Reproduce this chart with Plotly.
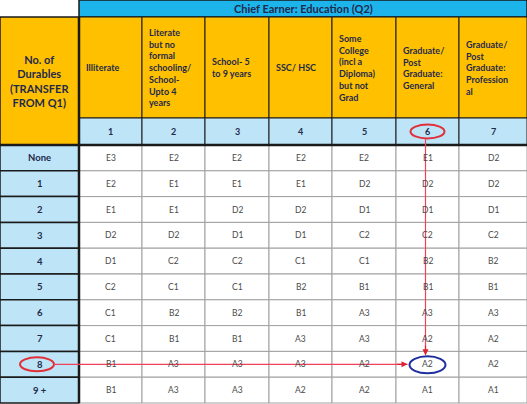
import plotly.graph_objects as go

title = "Chief Earner: Education (Q2)"
row_header = "No. of<br>Durables<br>(TRANSFER<br>FROM Q1)"
col_headers = ["Illiterate", "Literate<br>but no<br>formal<br>schooling/<br>School-<br>Upto 4<br>years",
               "School- 5<br>to 9 years", "SSC/ HSC", "Some<br>College<br>(incl a<br>Diploma)<br>but not<br>Grad",
               "Graduate/<br>Post<br>Graduate:<br>General", "Graduate/<br>Post<br>Graduate:<br>Profession<br>al"]
col_codes = ["1", "2", "3", "4", "5", "6", "7"]
row_labels = ["None", "1", "2", "3", "4", "5", "6", "7", "8", "9 +"]
grades = [
    ["E3", "E2", "E2", "E2", "E2", "E1", "D2"],
    ["E2", "E1", "E1", "E1", "D2", "D2", "D2"],
    ["E1", "E1", "D2", "D2", "D1", "D1", "D1"],
    ["D2", "D2", "D1", "D1", "C2", "C2", "C2"],
    ["D1", "C2", "C2", "C1", "C1", "B2", "B2"],
    ["C2", "C1", "C1", "B2", "B1", "B1", "B1"],
    ["C1", "B2", "B2", "B1", "A3", "A3", "A3"],
    ["C1", "B1", "B1", "A3", "A3", "A2", "A2"],
    ["B1", "A3", "A3", "A3", "A2", "A2", "A2"],
    ["B1", "A3", "A3", "A2", "A2", "A1", "A1"],
]

xe = [0, 79, 142, 205, 269, 332, 396, 459, 527]
ye_top = [0, 17, 118, 145]
ye = [145 + i * 25.8 for i in range(11)]

ORANGE = "#FFC000"; CYAN = "#1DB4EC"; LBLUE = "#BEE4F8"; NAVY = "#1F2A4A"; GRID = "#A0A0A0"; DARK = "#1A1A1A"
FONT = "Lato"

fig = go.Figure()
shapes = []
def rect(x0, y0, x1, y1, fill, lc=GRID, lw=1):
    shapes.append(dict(type="rect", x0=x0, y0=y0, x1=x1, y1=y1, fillcolor=fill,
                       line=dict(color=lc, width=lw), layer="below"))

rect(xe[1], ye_top[0], xe[-1], ye_top[1], CYAN, DARK, 1.5)
rect(xe[0], ye_top[1], xe[1], ye_top[3], ORANGE, DARK, 1.5)
for j in range(7):
    rect(xe[j+1], ye_top[1], xe[j+2], ye_top[2], ORANGE, DARK, 1)
    rect(xe[j+1], ye_top[2], xe[j+2], ye_top[3], LBLUE, DARK, 1)
for i in range(10):
    rect(xe[0], ye[i], xe[1], ye[i+1], LBLUE, DARK, 1.5)
    for j in range(7):
        rect(xe[j+1], ye[i], xe[j+2], ye[i+1], "white", GRID, 1)
shapes.append(dict(type="line", x0=xe[1], x1=xe[1], y0=ye_top[1], y1=ye[-1], line=dict(color=DARK, width=2.5)))
shapes.append(dict(type="line", x0=0, x1=527, y0=ye_top[3], y1=ye_top[3], line=dict(color=DARK, width=2.5)))

cx = (xe[6] + xe[7]) / 2
ry = (ye[8] + ye[9]) / 2
hy = (ye_top[2] + ye_top[3]) / 2
shapes.append(dict(type="circle", x0=cx-17, x1=cx+17, y0=hy-7, y1=hy+7, line=dict(color="#E0303A", width=2)))
shapes.append(dict(type="circle", x0=20, x1=54, y0=ry-7, y1=ry+7, line=dict(color="#E0303A", width=2)))
shapes.append(dict(type="circle", x0=cx-18, x1=cx+18, y0=ry-8, y1=ry+9, line=dict(color="#1F2FA0", width=2)))
shapes.append(dict(type="line", x0=cx-2, x1=cx-2, y0=hy+7, y1=ry-9, line=dict(color="#F0405A", width=1.2)))
shapes.append(dict(type="line", x0=54, x1=cx-20, y0=ry, y1=ry, line=dict(color="#F0405A", width=1.2)))

ann = []
def txt(x, y, t, size=9, bold=False, color=NAVY, xanchor="center", align="center"):
    ann.append(dict(x=x, y=y, text=f"<b>{t}</b>" if bold else t, showarrow=False, xanchor=xanchor,
                    font=dict(family=FONT, size=size, color=color), align=align))
txt((xe[1]+xe[-1])/2, 8.5, title, 11, True)
txt(xe[1]/2, 81, row_header, 11, True)
for j in range(7):
    txt(xe[j+1]+5, (ye_top[1]+ye_top[2])/2, col_headers[j], 9, True, NAVY, "left", "left")
    txt((xe[j+1]+xe[j+2])/2, hy, col_codes[j], 9, True)
for i in range(10):
    yc = (ye[i]+ye[i+1])/2
    txt(xe[1]/2, yc, row_labels[i], 9.5, True)
    for j in range(7):
        txt((xe[j+1]+xe[j+2])/2, yc, grades[i][j], 8.5, False, "#4A4A4A")
ann.append(dict(x=cx-2, y=ry-9, ax=cx-2, ay=ry-20, xref="x", yref="y", axref="x", ayref="y", text="",
                showarrow=True, arrowhead=2, arrowsize=1, arrowwidth=1.2, arrowcolor="#E02030"))
ann.append(dict(x=cx-20, y=ry, ax=cx-32, ay=ry, xref="x", yref="y", axref="x", ayref="y", text="",
                showarrow=True, arrowhead=2, arrowsize=1, arrowwidth=1.2, arrowcolor="#E02030"))

fig.update_layout(width=527, height=404, margin=dict(l=0, r=0, t=0, b=0),
                  plot_bgcolor="white", paper_bgcolor="white", shapes=shapes, annotations=ann,
                  xaxis=dict(range=[0, 527], visible=False, fixedrange=True),
                  yaxis=dict(range=[404, 0], visible=False, fixedrange=True), showlegend=False)
fig.write_html("out.html", config={"displayModeBar": False},
               post_script="document.body.style.margin='0';document.body.style.overflow='hidden';")
